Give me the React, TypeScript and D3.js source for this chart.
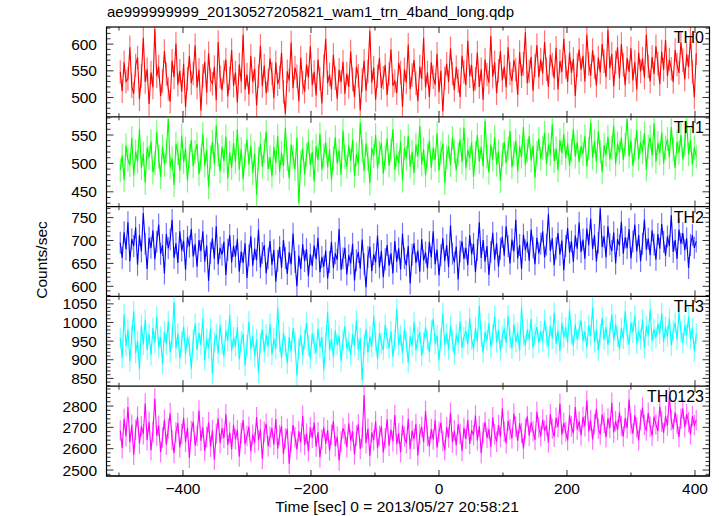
import React from "react";
import * as d3 from "d3";

const TITLE = "ae999999999_20130527205821_wam1_trn_4band_long.qdp";
const X_LABEL = "Time [sec] 0 = 2013/05/27 20:58:21";
const Y_LABEL = "Counts/sec";
const TIME_START = -498;
const TIME_STEP = 3;
const xTickLabels = [-400, -200, 0, 200, 400];
const channels = ["TH0", "TH1", "TH2", "TH3", "TH0123"];

const th0 = [
  548, 512, 566, 530, 535, 594, 521, 507, 560, 575, 497, 541, 612, 529, 553, 488, 547, 519, 628, 540,
  558, 503, 531, 587, 544, 516, 492, 569, 538, 601, 524, 550, 511, 563, 482, 535, 578, 527, 545, 598,
  519, 552, 476, 541, 567, 509, 583, 533, 526, 557, 495, 604, 539, 514, 548, 571, 502, 536, 589, 522,
  547, 491, 562, 530, 618, 515, 543, 506, 578, 529, 554, 485, 540, 597, 521, 560, 508, 532, 573, 545,
  499, 566, 525, 538, 584, 511, 470, 549, 532, 603, 518, 556, 540, 493, 575, 528, 511, 562, 537, 596,
  523, 548, 504, 571, 535, 489, 559, 610, 527, 543, 515, 580, 536, 498, 552, 529, 567, 507, 545, 520,
  586, 534, 501, 558, 541, 476, 533, 569, 513, 549, 625, 528, 556, 496, 540, 574, 518, 537, 561, 505,
  544, 590, 522, 531, 508, 565, 547, 483, 553, 528, 599, 516, 542, 570, 527, 493, 558, 535, 612, 519,
  547, 501, 566, 538, 524, 582, 510, 550, 474, 536, 563, 529, 592, 545, 514, 557, 531, 501, 578, 548,
  523, 606, 540, 561, 512, 535, 584, 520, 553, 496, 571, 543, 528, 615, 539, 566, 508, 550, 587, 532,
  558, 519, 594, 545, 531, 570, 552, 505, 585, 540, 563, 622, 527, 549, 576, 513, 560, 598, 538, 571,
  545, 604, 553, 520, 580, 562, 536, 593, 515, 568, 548, 610, 557, 529, 584, 546, 572, 503, 561, 590,
  552, 578, 530, 618, 563, 541, 589, 557, 522, 575, 547, 600, 568, 538, 627, 555, 582, 521, 566, 594,
  536, 600, 561, 523, 574, 548, 592, 532, 567, 515, 584, 549, 573, 537, 618, 558, 530, 576, 544, 596,
  563, 525, 586, 552, 608, 540, 571, 554, 529, 589, 562, 546, 603, 570, 534, 581, 557, 613, 548, 500,
  583,
];
const th1 = [
  488, 514, 471, 532, 506, 497, 545, 479, 521, 503, 560, 492, 517, 466, 528, 510, 539, 484, 501, 555,
  512, 476, 530, 498, 521, 578, 493, 509, 462, 535, 518, 487, 549, 502, 526, 470, 513, 541, 495, 520,
  534, 481, 507, 552, 496, 524, 458, 511, 538, 499, 567, 515, 486, 529, 504, 547, 473, 519, 492, 536,
  503, 560, 489, 525, 472, 514, 542, 498, 531, 483, 517, 445, 508, 535, 494, 522, 556, 490, 511, 477,
  529, 501, 548, 485, 518, 495, 563, 507, 474, 533, 512, 490, 545, 430, 502, 526, 481, 515, 539, 497,
  520, 468, 531, 506, 552, 489, 514, 537, 493, 525, 471, 509, 546, 500, 523, 480, 558, 511, 494, 532,
  505, 541, 478, 516, 499, 572, 522, 487, 535, 508, 465, 527, 513, 550, 491, 519, 536, 482, 510, 544,
  496, 523, 560, 489, 515, 501, 538, 470, 527, 509, 548, 494, 520, 483, 533, 512, 566, 498, 525, 479,
  514, 540, 492, 528, 506, 553, 487, 519, 535, 466, 511, 530, 497, 545, 521, 488, 516, 542, 502, 563,
  491, 524, 509, 537, 476, 518, 550, 503, 529, 495, 575, 512, 484, 533, 507, 546, 498, 521, 469, 515,
  538, 501, 526, 557, 493, 517, 540, 486, 530, 512, 564, 497, 522, 548, 505, 531, 475, 519, 543, 508,
  527, 554, 499, 533, 516, 569, 504, 526, 488, 541, 518, 551, 509, 535, 496, 523, 561, 512, 538, 502,
  530, 517, 548, 494, 526, 572, 510, 539, 503, 556, 521, 485, 532, 515, 547, 507, 528, 566, 498, 535,
  519, 545, 506, 533, 578, 512, 540, 496, 524, 559, 508, 537, 520, 553, 489, 529, 546, 514, 570, 503,
  536, 518, 555, 500, 528, 543, 511, 564, 525, 492, 538, 519, 550, 507, 533, 574, 516, 541, 498, 528,
  512,
];
const th2 = [
  695, 662, 718, 681, 740, 655, 703, 688, 729, 647, 712, 676, 760, 693, 638, 706, 684, 722, 659, 697,
  735, 671, 690, 628, 714, 683, 702, 745, 662, 694, 651, 720, 678, 699, 636, 708, 687, 725, 665, 692,
  643, 701, 677, 720, 654, 689, 612, 673, 705, 660, 731, 648, 684, 669, 697, 625, 680, 712, 652, 688,
  665, 703, 632, 676, 651, 694, 618, 668, 709, 645, 682, 657, 724, 641, 673, 690, 628, 661, 699, 647,
  679, 610, 656, 686, 640, 701, 662, 627, 674, 648, 715, 653, 600, 667, 638, 692, 655, 681, 622, 670,
  644, 689, 659, 706, 631, 664, 643, 678, 617, 653, 697, 640, 672, 658, 725, 636, 661, 684, 626, 668,
  650, 693, 613, 657, 675, 639, 702, 648, 598, 664, 686, 633, 670, 652, 711, 641, 677, 620, 659, 690,
  645, 672, 628, 699, 654, 683, 637, 715, 661, 646, 688, 606, 669, 694, 651, 678, 632, 703, 656, 674,
  639, 697, 663, 720, 648, 680, 624, 668, 705, 655, 690, 642, 733, 671, 652, 687, 615, 676, 698, 660,
  684, 646, 712, 670, 693, 631, 679, 740, 662, 701, 654, 688, 625, 675, 717, 658, 694, 643, 682, 708,
  667, 731, 688, 650, 702, 676, 745, 661, 690, 638, 713, 679, 697, 656, 724, 685, 648, 706, 672, 693,
  720, 663, 691, 758, 677, 705, 646, 683, 716, 669, 700, 635, 688, 727, 674, 698, 653, 711, 682, 739,
  675, 702, 660, 726, 690, 748, 681, 712, 654, 695, 770, 686, 709, 663, 731, 692, 677, 718, 650, 703,
  689, 741, 671, 707, 683, 725, 661, 698, 735, 676, 712, 655, 693, 746, 680, 704, 668, 722, 691, 658,
  714, 682, 736, 697, 667, 709, 688, 755, 675, 701, 660, 724, 693, 716, 679, 705, 640, 690, 712, 684,
  698,
];
const th3 = [
  958, 905, 1022, 937, 981, 896, 965, 1030, 918, 950, 874, 992, 941, 1008, 927, 969, 912, 985, 946, 1015,
  933, 961, 889, 975, 942, 1003, 920, 958, 1055, 931, 970, 903, 948, 989, 915, 962, 938, 876, 954, 997,
  926, 972, 940, 1011, 898, 956, 930, 984, 862, 947, 968, 917, 993, 943, 909, 978, 951, 1020, 924, 960,
  936, 988, 901, 949, 970, 884, 939, 1002, 928, 963, 910, 955, 866, 944, 982, 920, 967, 935, 996, 914,
  957, 929, 1040, 948, 905, 973, 937, 890, 961, 922, 985, 946, 858, 931, 966, 912, 954, 999, 938, 903,
  971, 943, 918, 984, 933, 960, 872, 947, 1028, 925, 956, 907, 979, 940, 965, 896, 952, 990, 929, 948,
  912, 968, 939, 1005, 927, 958, 845, 941, 983, 919, 962, 935, 1018, 950, 902, 973, 944, 926, 994, 957,
  931, 976, 908, 953, 1036, 940, 966, 917, 981, 948, 893, 962, 937, 1001, 924, 959, 975, 911, 946, 987,
  953, 920, 978, 1010, 943, 965, 898, 956, 1024, 939, 970, 928, 991, 951, 914, 967, 945, 1003, 932, 960,
  977, 941, 1012, 955, 928, 986, 949, 1045, 962, 919, 974, 952, 998, 934, 968, 1016, 947, 980, 925, 963,
  983, 946, 1018, 959, 930, 995, 948, 972, 924, 1040, 963, 939, 981, 954, 1009, 932, 967, 988, 945, 976,
  950, 1006, 964, 935, 991, 957, 1026, 943, 978, 923, 999, 960, 986, 946, 1034, 969, 938, 995, 954, 980,
  1005, 950, 976, 933, 992, 964, 1040, 947, 981, 925, 968, 1013, 954, 988, 939, 974, 1022, 951, 995, 962,
  928, 985, 957, 1030, 969, 940, 1000, 973, 1018, 944, 977, 955, 1008, 932, 990, 965, 1035, 950, 982, 959,
  996, 971, 1025, 948, 987, 963, 1010, 939, 978, 999, 954, 1028, 975, 945, 992, 967, 1015, 956, 984, 922,
  970,
];
const th0123 = [
  2685, 2602, 2741, 2658, 2795, 2630, 2712, 2571, 2689, 2750, 2624, 2705, 2668, 2812, 2640, 2726, 2593, 2679, 2835, 2661,
  2708, 2585, 2652, 2736, 2619, 2694, 2766, 2641, 2580, 2677, 2720, 2606, 2669, 2745, 2632, 2698, 2557, 2683, 2727, 2615,
  2660, 2779, 2637, 2701, 2590, 2655, 2724, 2609, 2686, 2548, 2670, 2741, 2626, 2695, 2650, 2761, 2618, 2676, 2597, 2712,
  2644, 2688, 2563, 2672, 2734, 2621, 2659, 2703, 2587, 2666, 2628, 2748, 2639, 2691, 2552, 2680, 2717, 2612, 2656, 2697,
  2620, 2739, 2601, 2664, 2706, 2575, 2648, 2693, 2529, 2633, 2711, 2654, 2596, 2682, 2630, 2754, 2617, 2671, 2588, 2699,
  2651, 2723, 2609, 2677, 2560, 2642, 2700, 2623, 2687, 2591, 2665, 2730, 2612, 2656, 2545, 2634, 2696, 2668, 2607, 2719,
  2638, 2681, 2573, 2662, 2715, 2599, 2653, 2852, 2627, 2694, 2566, 2676, 2640, 2729, 2603, 2661, 2705, 2582, 2649, 2738,
  2614, 2690, 2635, 2758, 2621, 2672, 2584, 2709, 2657, 2625, 2740, 2598, 2684, 2645, 2716, 2568, 2667, 2702, 2631, 2777,
  2660, 2611, 2692, 2643, 2733, 2605, 2678, 2722, 2636, 2593, 2701, 2652, 2769, 2629, 2685, 2616, 2714, 2670, 2590, 2698,
  2646, 2735, 2622, 2687, 2663, 2756, 2639, 2706, 2579, 2674, 2725, 2650, 2692, 2608, 2747, 2668, 2633, 2711, 2655, 2790,
  2679, 2625, 2731, 2690, 2648, 2765, 2703, 2637, 2719, 2673, 2600, 2695, 2752, 2661, 2724, 2682, 2641, 2773, 2699, 2658,
  2737, 2684, 2710, 2629, 2762, 2693, 2656, 2745, 2701, 2810, 2666, 2721, 2680, 2639, 2758, 2704, 2672, 2795, 2690, 2728,
  2662, 2749, 2705, 2826, 2681, 2733, 2643, 2715, 2787, 2694, 2667, 2760, 2720, 2654, 2742, 2698, 2815, 2676, 2729, 2688,
  2771, 2707, 2657, 2744, 2696, 2830, 2718, 2670, 2757, 2700, 2639, 2735, 2793, 2712, 2685, 2768, 2703, 2661, 2750, 2714,
  2683, 2798, 2726, 2674, 2752, 2709, 2845, 2733, 2692, 2770, 2716, 2655, 2740, 2788, 2701, 2762, 2724, 2667, 2753, 2710,
  2735,
];
const seriesValues = [th0, th1, th2, th3, th0123];
const seriesErrors = [22, 21, 24, 28, 48];
const yDomains: [number, number][] = [
  [464, 632],
  [424, 582],
  [578, 774],
  [829, 1070],
  [2472, 2893],
];
const yTickLabels = [
  [500, 550, 600],
  [450, 500, 550],
  [600, 650, 700, 750],
  [850, 900, 950, 1000, 1050],
  [2500, 2600, 2700, 2800],
];
const yMinorSteps = [10, 10, 10, 10, 20];
const colors = ["#ff0000", "#00ff00", "#0000ff", "#00ffff", "#ff00ff"];

const W = 719;
const H = 516;
const LEFT = 106.5;
const RIGHT = 709.5;
const TOP = 27;
const BOTTOM = 476;
const FONT = "'Liberation Sans', Arial, Helvetica, sans-serif";

export default function App() {
  const x = d3.scaleLinear().domain([-519.5, 422.7]).range([LEFT, RIGHT]);
  const panelH = (BOTTOM - TOP) / channels.length;
  const xMinor = d3.range(-500, 401, 100);

  return (
    <svg
      width={W}
      height={H}
      style={{ position: "absolute", left: 0, top: 0, background: "#fff" }}
      fontFamily={FONT}
    >
      <rect x={0} y={0} width={W} height={H} fill="#fff" />
      <defs>
        {channels.map((c, i) => (
          <clipPath id={`clip${i}`} key={c}>
            <rect x={LEFT} y={TOP + i * panelH} width={RIGHT - LEFT} height={panelH} />
          </clipPath>
        ))}
      </defs>
      {channels.map((c, i) => {
        const y0 = TOP + i * panelH;
        const y1 = y0 + panelH;
        const y = d3.scaleLinear().domain(yDomains[i]).range([y1, y0]);
        const vals = seriesValues[i];
        const times = vals.map((_, k) => TIME_START + k * TIME_STEP);
        const err = seriesErrors[i];
        const line = d3
          .line<number>()
          .x((_, k) => x(times[k]))
          .y((v) => y(v));
        const minorY = d3
          .range(
            Math.ceil(yDomains[i][0] / yMinorSteps[i]) * yMinorSteps[i],
            yDomains[i][1],
            yMinorSteps[i]
          )
          .filter((v) => !yTickLabels[i].includes(v));
        return (
          <g key={c}>
            <g clipPath={`url(#clip${i})`}>
              {vals.map((v, k) => (
                <line
                  key={k}
                  x1={x(times[k])}
                  x2={x(times[k])}
                  y1={y(v - err)}
                  y2={y(v + err)}
                  stroke={colors[i]}
                  strokeOpacity={0.55}
                  strokeWidth={1.2}
                />
              ))}
              <path d={line(vals) || ""} fill="none" stroke={colors[i]} strokeWidth={1.1} />
            </g>
            {yTickLabels[i].map((v) => (
              <g key={`m${v}`}>
                <line x1={LEFT} x2={LEFT + 7} y1={y(v)} y2={y(v)} stroke="#333" />
                <line x1={RIGHT} x2={RIGHT - 7} y1={y(v)} y2={y(v)} stroke="#333" />
                <text x={97} y={y(v)} dy="0.36em" textAnchor="end" fontSize={15.5} fill="#000">
                  {v}
                </text>
              </g>
            ))}
            {minorY.map((v) => (
              <g key={`n${v}`}>
                <line x1={LEFT} x2={LEFT + 4} y1={y(v)} y2={y(v)} stroke="#333" />
                <line x1={RIGHT} x2={RIGHT - 4} y1={y(v)} y2={y(v)} stroke="#333" />
              </g>
            ))}
            {xMinor.map((t) => {
              const major = xTickLabels.includes(t);
              const len = major ? 6 : 3.5;
              return (
                <g key={`x${t}`}>
                  <line x1={x(t)} x2={x(t)} y1={y1} y2={y1 - len} stroke="#333" />
                  <line x1={x(t)} x2={x(t)} y1={y0} y2={y0 + len} stroke="#333" />
                </g>
              );
            })}
            <text x={704} y={y0 + 16} textAnchor="end" fontSize={16} fill="#000">
              {c}
            </text>
            <line x1={LEFT} x2={RIGHT} y1={y1} y2={y1} stroke="#000" strokeWidth={1.2} />
          </g>
        );
      })}
      <rect
        x={LEFT}
        y={TOP}
        width={RIGHT - LEFT}
        height={BOTTOM - TOP}
        fill="none"
        stroke="#000"
        strokeWidth={1.2}
      />
      {xTickLabels.map((t) => (
        <text key={t} x={x(t)} y={494} textAnchor="middle" fontSize={15.5} fill="#000">
          {t < 0 ? `\u2212${Math.abs(t)}` : t}
        </text>
      ))}
      <text x={397} y={512} textAnchor="middle" fontSize={15.5} fill="#000">
        {X_LABEL}
      </text>
      <text transform={`translate(47, 260) rotate(-90)`} textAnchor="middle" fontSize={15.5} fill="#000">
        {Y_LABEL}
      </text>
      <text x={107} y={17} fontSize={15} fill="#000">
        {TITLE}
      </text>
    </svg>
  );
}
